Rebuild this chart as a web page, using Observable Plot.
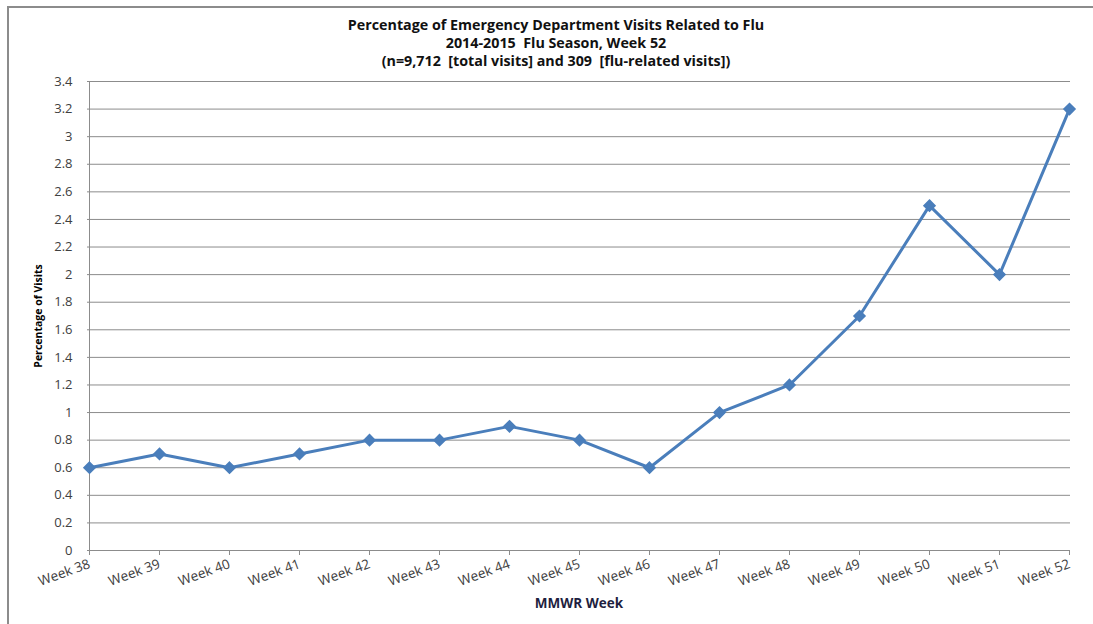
<!DOCTYPE html>
<html>
<head>
<meta charset="utf-8">
<script src="https://cdn.jsdelivr.net/npm/d3@7"></script>
<script src="https://cdn.jsdelivr.net/npm/@observablehq/plot@0.6"></script>
<style>
  html, body { margin: 0; padding: 0; background: #fff; }
  #wrap { position: relative; width: 1093px; height: 624px; overflow: hidden; font-family: "Open Sans", sans-serif; }
  #frame { position: absolute; left: 7px; top: 6px; width: 1100px; height: 700px; border-top: 2px solid #8c8c8c; border-left: 2px solid #8c8c8c; }
  #title { position: absolute; left: 0; width: 1112px; top: 16px; text-align: center; font-weight: bold; font-size: 14.3px; line-height: 18px; color: #111; }
  #chart { position: absolute; left: 0; top: 0; }
</style>
</head>
<body>
<div id="wrap">
  <div id="frame"></div>
  <div id="chart"></div>
  <div id="title">
    <div>Percentage of Emergency Department Visits Related to Flu</div>
    <div>2014-2015&nbsp; Flu Season, Week 52</div>
    <div>(n=9,712&nbsp; [total visits] and 309&nbsp; [flu-related visits])</div>
  </div>
</div>
<script>
const weeks = ["Week 38","Week 39","Week 40","Week 41","Week 42","Week 43","Week 44","Week 45","Week 46","Week 47","Week 48","Week 49","Week 50","Week 51","Week 52"];
const percentages = [0.6, 0.7, 0.6, 0.7, 0.8, 0.8, 0.9, 0.8, 0.6, 1.0, 1.2, 1.7, 2.5, 2.0, 3.2];
const yTicks = [0,0.2,0.4,0.6,0.8,1,1.2,1.4,1.6,1.8,2,2.2,2.4,2.6,2.8,3,3.2,3.4];

const data = weeks.map((w, i) => ({week: w, pct: percentages[i]}));

const chart = Plot.plot({
  width: 1093,
  height: 624,
  marginLeft: 87,
  marginRight: 23,
  marginTop: 81,
  marginBottom: 74,
  style: {fontFamily: "Open Sans, sans-serif", fontSize: "13px", background: "transparent", color: "#404040"},
  x: {type: "point", domain: weeks, padding: 0},
  y: {domain: [0, 3.4]},
  marks: [
    Plot.gridY(yTicks, {stroke: "#8c8c8c", strokeOpacity: 1, strokeWidth: 1}),
    Plot.ruleX([weeks[0]], {stroke: "#8c8c8c", strokeWidth: 1}),
    Plot.axisY(yTicks, {tickSize: 0, tickPadding: 15, tickFormat: d => String(d), label: null, fill: "#404040", fontSize: 13}),
    Plot.axisX({tickSize: 5, tickPadding: 8, tickRotate: -20, label: null, stroke: "#8c8c8c", fill: "#404040", fontSize: 13.5}),
    Plot.text(["Percentage of Visits"], {frameAnchor: "left", textAnchor: "middle", dx: -49, rotate: -90, fontWeight: "bold", fontSize: 10.5, fill: "#000"}),
    Plot.text(["MMWR Week"], {frameAnchor: "bottom", dy: 57, fontWeight: "bold", fontSize: 13.5, fill: "#1f1f3f"}),
    Plot.line(data, {x: "week", y: "pct", stroke: "#4a7ebb", strokeWidth: 3}),
    Plot.dot(data, {x: "week", y: "pct", symbol: "diamond2", r: 5, fill: "#4a7ebb", stroke: "#4a7ebb"})
  ]
});
document.getElementById("chart").appendChild(chart);
</script>
</body>
</html>
